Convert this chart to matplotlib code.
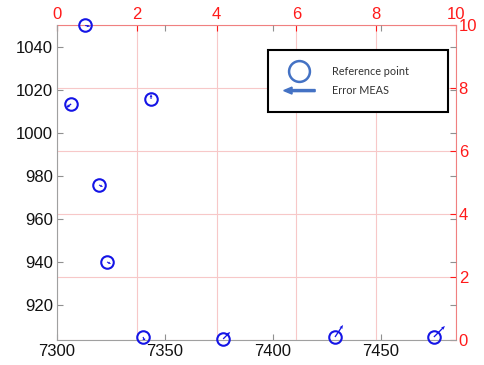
import numpy as np
import matplotlib.pyplot as plt
import matplotlib.patches as mpatches
from matplotlib.lines import Line2D
from matplotlib.legend_handler import HandlerPatch

plt.rcParams['font.family'] = ['Liberation Sans', 'DejaVu Sans']

# reference points (x, y) and error vector components (arbitrary units)
ref_x = [7313.0, 7306.5, 7343.5, 7319.4, 7323.1, 7339.8, 7376.9, 7428.7, 7474.5]
ref_y = [1050.0, 1013.5, 1015.8, 975.8, 940.0, 905.1, 904.2, 905.1, 905.1]
err_dx = [5, -5, 0, 4, 4, 2, 7, 8, 11]
err_dy = [-1, -4, 5, -2, -2, -5, 7, 12, 11]

xticks = [7300, 7350, 7400, 7450]
yticks = [920, 940, 960, 980, 1000, 1020, 1040]
scale_ticks = [0, 2, 4, 6, 8, 10]

blue = '#1414e6'
red = '#ff1a1a'
leg_blue = '#4472c4'

fig = plt.figure(figsize=(4.84, 3.65), dpi=100)
rect = [0.118, 0.0685, 0.824, 0.863]

# secondary 0-10 scale with red grid, drawn underneath
ax2 = fig.add_axes(rect, label='scale')
ax2.set_xlim(0, 10)
ax2.set_ylim(0, 10)
ax2.set_xticks(scale_ticks)
ax2.set_yticks(scale_ticks)
ax2.xaxis.tick_top()
ax2.yaxis.tick_right()
ax2.tick_params(colors=red, labelsize=12, direction='in', length=4, pad=2)
ax2.grid(True, color='#f7c8c8', lw=0.8)
for s in ['left', 'bottom']:
    ax2.spines[s].set_visible(False)
for s in ['top', 'right']:
    ax2.spines[s].set_color('#f08080')

# main axes with points and error arrows
ax = fig.add_axes(rect, label='main')
ax.patch.set_alpha(0)
ax.set_xlim(7300, 7484.7)
ax.set_ylim(903.7, 1050.2)
ax.set_xticks(xticks)
ax.set_yticks(yticks)
ax.tick_params(colors='#909090', labelcolor='#111111', labelsize=12,
               direction='in', length=4, top=True, right=True, pad=3)
for s in ['top', 'right']:
    ax.spines[s].set_visible(False)
for s in ['left', 'bottom']:
    ax.spines[s].set_color('#a0a0a0')

ax.plot(ref_x, ref_y, ls='none', marker='o', ms=9, mfc='none', mec=blue,
        mew=1.5, clip_on=False, zorder=3)
ax.quiver(ref_x, ref_y, err_dx, err_dy, angles='uv', scale_units='dots',
          scale=1, units='dots', width=1.3, headwidth=2.6, headlength=3,
          headaxislength=2.6, minshaft=1.5, color=blue, zorder=4)


def make_arrow(legend, orig_handle, xdescent, ydescent, width, height, fontsize):
    return mpatches.FancyArrow(width - xdescent, 0.5 * height - ydescent, -width, 0,
                               width=1.5, head_width=5, head_length=6,
                               length_includes_head=True)


h_point = Line2D([], [], ls='none', marker='o', ms=15, mfc='none',
                 mec=leg_blue, mew=1.8)
h_err = mpatches.FancyArrow(0, 0, 1, 0, color=leg_blue)
leg = ax.legend([h_point, h_err], ['Reference point', 'Error MEAS'],
                handler_map={mpatches.FancyArrow: HandlerPatch(patch_func=make_arrow)},
                loc='upper left', mode='expand',
                bbox_to_anchor=(268 / 484, 1 - 107 / 365, 180 / 484, 57 / 365),
                bbox_transform=fig.transFigure, borderaxespad=0,
                fancybox=False, framealpha=1, edgecolor='black',
                prop={'family': 'Lato', 'size': 7.8}, labelcolor='#333333',
                handlelength=2.9, handletextpad=1.6, borderpad=1.45,
                labelspacing=0.8)
leg.get_frame().set_linewidth(1.5)

fig.savefig('out.png', dpi=100)
